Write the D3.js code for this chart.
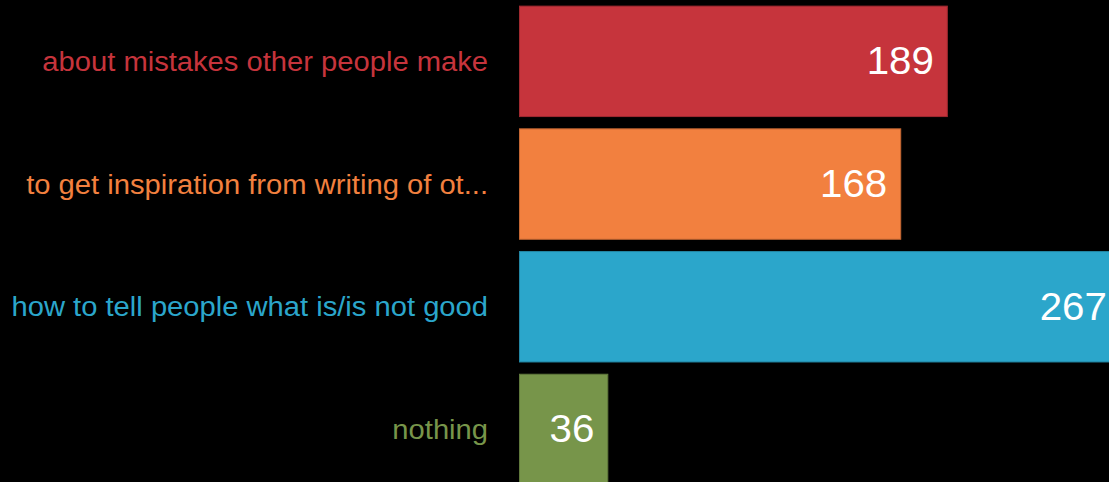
<!DOCTYPE html>
<html>
<head>
<meta charset="utf-8">
<script src="https://cdn.jsdelivr.net/npm/d3@7"></script>
<style>
html, body { margin: 0; padding: 0; background: #000; overflow: hidden; }
svg { display: block; }
</style>
</head>
<body>
<script>
const categories = [
  "about mistakes other people make",
  "to get inspiration from writing of ot...",
  "how to tell people what is/is not good",
  "nothing"
];
const values = [189, 168, 267, 36];
const colors = ["#c6343c", "#f2803f", "#2ba6cb", "#77954a"];

const W = 1109, H = 482;
const svg = d3.select("body").append("svg").attr("width", W).attr("height", H);

const x = d3.scaleLinear().domain([-3.8, 267]).range([519.5, 1120.4]);
const y = d3.scaleBand().domain(categories).range([0, 490.8]).paddingInner(0.1).paddingOuter(0.05);

const g = svg.append("g");
const rows = g.selectAll("g.row").data(categories).join("g").attr("class", "row");

rows.append("rect")
  .attr("x", x(-3.8))
  .attr("y", d => y(d))
  .attr("width", (d, i) => x(values[i]) - x(-3.8))
  .attr("height", y.bandwidth())
  .attr("fill", (d, i) => colors[i])
  .attr("stroke", (d, i) => d3.color(colors[i]).darker(0.6))
  .attr("stroke-width", 1);

const sx = 1.08;

rows.append("text")
  .attr("transform", d => `translate(488,${y(d) + y.bandwidth() / 2}) scale(${sx},1)`)
  .attr("dy", "0.35em")
  .attr("text-anchor", "end")
  .attr("fill", (d, i) => colors[i])
  .style("font-family", "'Liberation Sans', Arial, sans-serif")
  .style("font-size", "27px")
  .text(d => d);

rows.append("text")
  .attr("transform", (d, i) => `translate(${x(values[i]) - 13.5},${y(d) + y.bandwidth() / 2}) scale(1.06,1)`)
  .attr("dy", "0.34em")
  .attr("text-anchor", "end")
  .attr("fill", "#ffffff")
  .style("font-family", "'Liberation Sans', Arial, sans-serif")
  .style("font-size", "38px")
  .text((d, i) => values[i]);
</script>
</body>
</html>
